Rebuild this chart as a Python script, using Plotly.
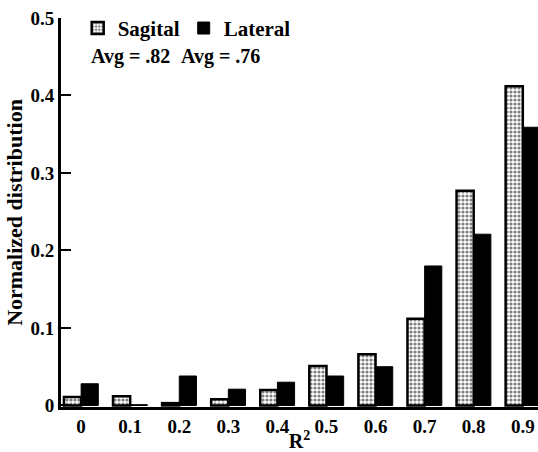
import plotly.graph_objects as go

categories = ["0", "0.1", "0.2", "0.3", "0.4", "0.5", "0.6", "0.7", "0.8", "0.9"]
sagital = [0.011, 0.012, 0.003, 0.008, 0.020, 0.051, 0.066, 0.112, 0.277, 0.412]
lateral = [0.028, 0.001, 0.038, 0.021, 0.030, 0.038, 0.050, 0.180, 0.221, 0.359]
yticks = [0, 0.1, 0.2, 0.3, 0.4, 0.5]
ytick_labels = ["0", "0.1", "0.2", "0.3", "0.4", "0.5"]
avg_labels = ["Avg = .82", "Avg = .76"]

xpos = list(range(len(categories)))
FONT = "Liberation Serif"

def f(size):
    return dict(family=FONT, size=size, color="black", weight="bold")

fig = go.Figure()
fig.add_trace(go.Bar(
    x=xpos, y=sagital, name="Sagital",
    marker=dict(color="white",
                pattern=dict(shape=".", fgcolor="black", bgcolor="white", size=4, solidity=0.5),
                line=dict(color="black", width=2.5)),
))
fig.add_trace(go.Bar(
    x=xpos, y=lateral, name="Lateral",
    marker=dict(color="black", line=dict(color="black", width=1)),
))

fig.update_layout(
    width=538, height=452,
    margin=dict(l=61, r=0, t=18, b=45, autoexpand=False),
    paper_bgcolor="white", plot_bgcolor="white",
    barmode="group", bargap=0.3, bargroupgap=0,
    font=f(19),
    showlegend=True,
    legend=dict(orientation="h", x=0.035, y=1.026, xanchor="left", yanchor="top",
                font=f(21), bgcolor="rgba(0,0,0,0)", itemwidth=30, traceorder="normal",
                entrywidth=61, entrywidthmode="pixels"),
)
fig.add_annotation(text=avg_labels[0], xref="paper", yref="paper", x=0.058, y=0.902,
                   xanchor="left", yanchor="middle", showarrow=False, font=f(20))
fig.add_annotation(text=avg_labels[1], xref="paper", yref="paper", x=0.247, y=0.902,
                   xanchor="left", yanchor="middle", showarrow=False, font=f(20))

fig.update_xaxes(
    range=[-0.41, 9.31], tickmode="array", tickvals=xpos, ticktext=categories,
    showline=True, linecolor="black", linewidth=3, ticks="", showgrid=False, zeroline=False,
    tickfont=f(19), automargin=False, ticklabeloverflow="allow",
    title=dict(text="R<sup>2</sup>", standoff=2, font=f(20)),
)
fig.update_yaxes(
    range=[-0.002, 0.5], tickmode="array", tickvals=yticks, ticktext=ytick_labels,
    showline=True, linecolor="black", linewidth=3, ticks="inside", ticklen=10, tickwidth=2,
    tickcolor="black", showgrid=False, zeroline=False, automargin=False,
    tickfont=f(19), ticklabeloverflow="allow",
    title=dict(text="Normalized distribution", standoff=2, font=f(22)),
)

# remove the default page margin so the figure fills the window exactly
fig.write_html("out.html",
               config={"displayModeBar": False},
               post_script="document.body.style.margin='0';document.body.style.overflow='hidden';")
